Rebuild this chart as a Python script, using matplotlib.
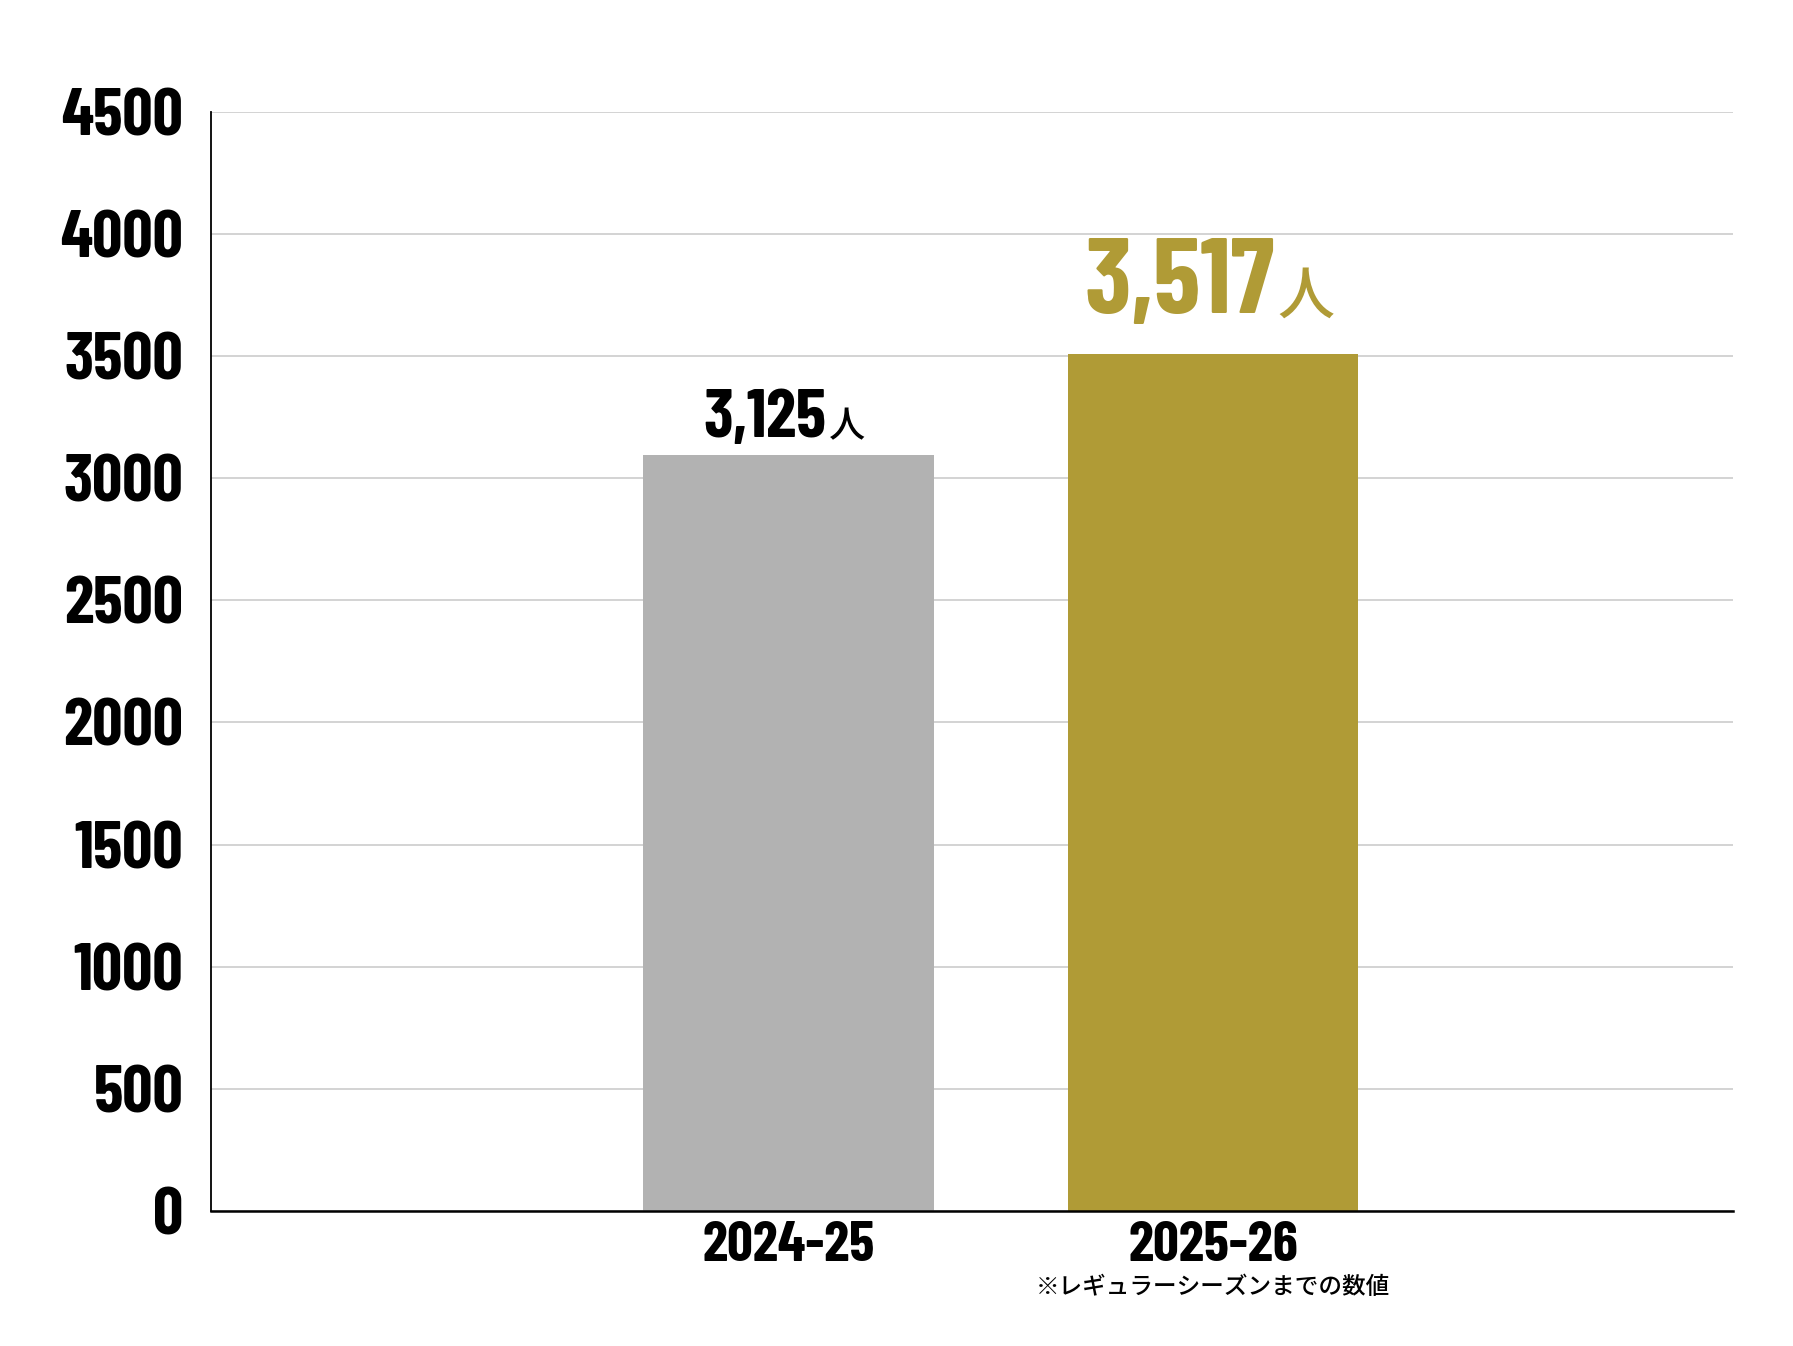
import matplotlib.pyplot as plt
from matplotlib import font_manager

seasons = ["2024-25", "2025-26"]
bar_heights = [3095, 3510]          # bar tops as drawn in the reference
value_labels = ["3,125", "3,517"]   # printed values
bar_colors = ["#b2b2b2", "#b09b36"]
label_colors = ["#000000", "#b09b36"]
note = "※レギュラーシーズンまでの数値"
yticks = list(range(0, 5000, 500))

names = {f.name for f in font_manager.fontManager.ttflist}
num_font = "DejaVu Sans"
for cand in ["Barlow Condensed", "Roboto Condensed", "Oswald", "Liberation Sans Narrow"]:
    if cand in names:
        num_font = cand
        break
jp_font = "Noto Sans CJK JP"

fig = plt.figure(figsize=(17.93, 13.46), dpi=100)
ax = fig.add_axes([0.1177, 0.1003, 0.8491, 0.8167])

x = list(range(len(seasons)))
ax.bar(x, bar_heights, width=0.685, color=bar_colors, zorder=2)

ax.set_ylim(0, 4500)
ax.set_xlim(-1.361, 2.226)
ax.set_yticks(yticks)
ax.set_yticklabels([str(t) for t in yticks], fontfamily=num_font,
                   fontweight="bold", fontsize=48)
ax.set_xticks(x)
ax.set_xticklabels(seasons, fontfamily=num_font, fontweight="bold", fontsize=41)
ax.tick_params(axis="y", length=0, pad=20)
ax.tick_params(axis="x", length=0, pad=7)

ax.grid(axis="y", color="#d0d0d0", linewidth=1.3, zorder=0)
ax.set_axisbelow(True)
for s in ["top", "right"]:
    ax.spines[s].set_visible(False)
ax.spines["left"].set_linewidth(1.3)
ax.spines["bottom"].set_linewidth(1.8)

# value labels: number + 人
sizes = [49, 77]
jp_sizes = [26, 41]
offsets = [(27, 13), (44, 29)]
for i, v in enumerate(bar_heights):
    dx, dy = offsets[i]
    ax.annotate(value_labels[i], (x[i], v), xytext=(dx, dy), textcoords="offset points",
                ha="right", va="baseline", fontfamily=num_font, fontweight="bold",
                fontsize=sizes[i], color=label_colors[i])
    ax.annotate("人", (x[i], v), xytext=(dx + 2, dy), textcoords="offset points",
                ha="left", va="baseline", fontfamily=jp_font, fontweight="medium",
                fontsize=jp_sizes[i], color=label_colors[i])

ax.annotate(note, (x[1], 0), xytext=(0, -47), textcoords="offset points",
            ha="center", va="top", fontfamily=jp_font, fontweight="medium",
            fontsize=17, color="#000000", annotation_clip=False)

fig.savefig("out.png", dpi=100)
